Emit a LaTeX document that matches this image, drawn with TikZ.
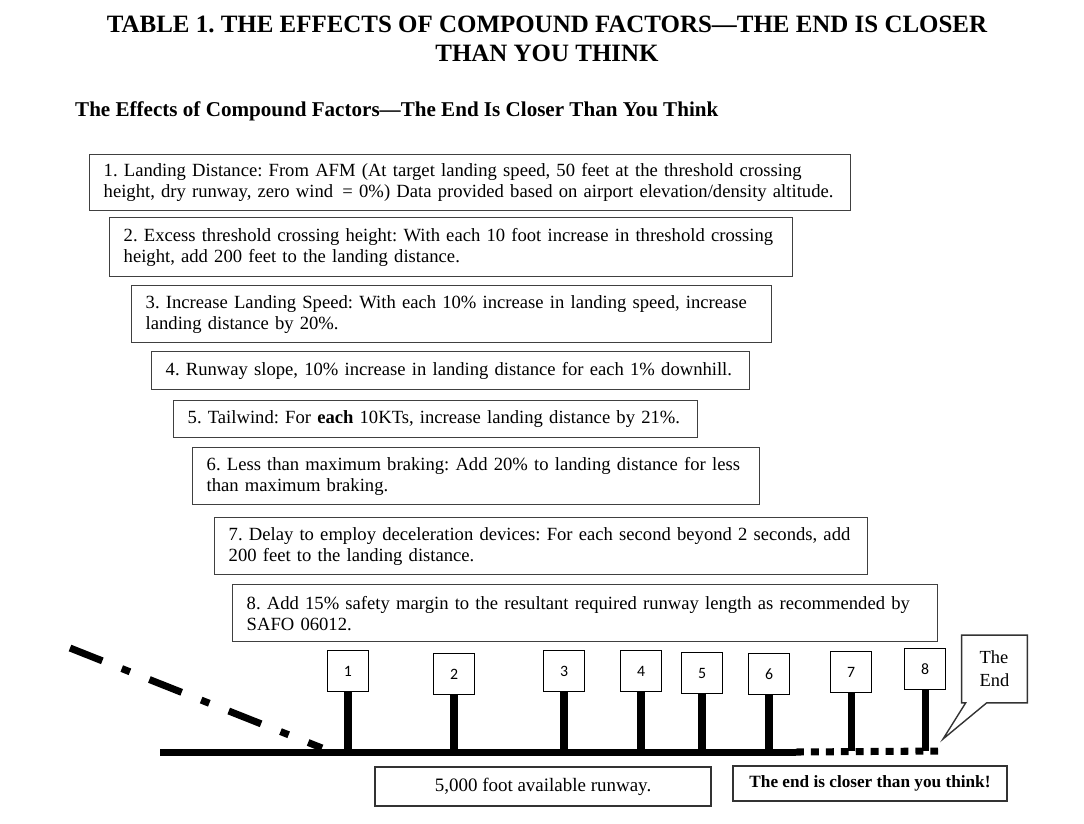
\documentclass[tikz,border=0pt]{standalone}
\usepackage{fontspec}
\setmainfont{Liberation Serif}
\newfontfamily\signfont{Carlito}
\usetikzlibrary{calc}
\frenchspacing

\tikzset{
  factor/.style={draw=black!75, line width=0.8pt, anchor=north west, align=left,
    inner xsep=0.28cm, inner ysep=0pt, font=\fontsize{10.6}{11.9}\selectfont},
  sign/.style={draw, line width=0.8pt, minimum size=0.82cm, inner sep=0pt,
    font=\signfont\fontsize{9}{10}\selectfont},
  stem/.style={line width=4pt},
  notebox/.style={draw=black!80, line width=0.8pt, inner sep=0pt}
}

\begin{document}
\begin{tikzpicture}[x=0.02cm,y=-0.02cm]
      \useasboundingbox (0,0) rectangle (1084,823);
      %\draw[help lines] (0,0) grid[step=50] (1084,823);
      \node[align=center, font=\bfseries\fontsize{14.2}{16.4}\selectfont] (title) at (547,39)
        {TABLE 1. THE EFFECTS OF COMPOUND FACTORS---THE END IS CLOSER\\THAN YOU THINK};
      \node[anchor=west, font=\bfseries\fontsize{12}{14}\selectfont] (sub) at (69,111)
        {The Effects of Compound Factors---The End Is Closer Than You Think};

      % the factors
      \node[factor, text width=14.66cm, minimum height=1.12cm] (f1) at (89,154)
        {1. Landing Distance: From AFM (At target landing speed, 50 feet at the threshold crossing\\
         height, dry runway, zero wind \,= 0\%) Data provided based on airport elevation/density altitude.};
      \node[factor, text width=13.10cm, minimum height=1.18cm] (f2) at (109,217)
        {2. Excess threshold crossing height: With each 10 foot increase in threshold crossing\\
         height, add 200 feet to the landing distance.};
      \node[factor, text width=12.24cm, minimum height=1.14cm] (f3) at (131,285)
        {3. Increase Landing Speed: With each 10\% increase in landing speed, increase\\
         landing distance by 20\%.};
      \node[factor, text width=11.40cm, minimum height=0.76cm] (f4) at (151,351)
        {4. Runway slope, 10\% increase in landing distance for each 1\% downhill.};
      \node[factor, text width=9.92cm, minimum height=0.74cm] (f5) at (173,400)
        {5. Tailwind: For \textbf{each} 10KTs, increase landing distance by 21\%.};
      \node[factor, text width=10.78cm, minimum height=1.14cm] (f6) at (192,447)
        {6. Less than maximum braking: Add 20\% to landing distance for less\\
         than maximum braking.};
      \node[factor, text width=12.50cm, minimum height=1.14cm] (f7) at (214,517)
        {7. Delay to employ deceleration devices: For each second beyond 2 seconds, add\\
         200 feet to the landing distance.};
      \node[factor, text width=13.54cm, minimum height=1.14cm] (f8) at (232,584)
        {8. Add 15\% safety margin to the resultant required runway length as recommended by\\
         SAFO 06012.};

      % approach and runway
      \coordinate (sky) at (70,648);
      \coordinate (touch) at (322,748);
      \coordinate (rwL) at (160,752);
      \coordinate (rwR) at (796,752);
      \coordinate (rwE) at (938,751);
      \draw[line width=4pt, dash pattern=on 19.8pt off 11.9pt on 5pt off 11.9pt] (sky) -- (touch);
      \draw[line width=4pt] (rwL) -- (rwR);
      \draw[line width=4pt, dash pattern=on 4.5pt off 4pt] (rwR) -- (rwE);

      % signs
      \node[sign] (s1) at (348,671) {1};
      \node[sign] (s2) at (454,674) {2};
      \node[sign] (s3) at (564,671) {3};
      \node[sign] (s4) at (641,671) {4};
      \node[sign] (s5) at (702,673) {5};
      \node[sign] (s6) at (769,674) {6};
      \node[sign] (s7) at (851,672) {7};
      \node[sign] (s8) at (925,669) {8};
      \draw[stem] (s1.south) -- (s1.south |- rwL);
      \draw[stem] (s2.south) -- (s2.south |- rwL);
      \draw[stem] (s3.south) -- (s3.south |- rwL);
      \draw[stem] (s4.south) -- (s4.south |- rwL);
      \draw[stem] (s5.south) -- (s5.south |- rwL);
      \draw[stem] (s6.south) -- (s6.south |- rwL);
      \draw[stem] (s7.south) -- (s7.south |- rwE);
      \draw[stem] (s8.south) -- (s8.south |- rwE);

      % the end
      \node[align=left, minimum width=1.3cm, minimum height=1.34cm, inner sep=0pt,
        font=\fontsize{10.5}{13}\selectfont] (theend) at (994.5,669) {The\\End};
      \coordinate (tip) at (943,739);
      \draw[line width=0.8pt, black!80] (theend.south west) -- (theend.north west) -- (theend.north east)
        -- (theend.south east) -- ($(theend.south west)+(25,0)$) -- (tip)
        -- ($(theend.south west)+(4,0)$) -- cycle;

      \node[notebox, minimum width=6.72cm, minimum height=0.78cm, font=\fontsize{10.8}{12}\selectfont]
        (avail) at (543,786.5) {5,000 foot available runway.};
      \node[notebox, minimum width=5.48cm, minimum height=0.70cm, font=\bfseries\fontsize{9.8}{11}\selectfont]
        (closer) at (870,783.5) {The end is closer than you think!};
\end{tikzpicture}
\end{document}
